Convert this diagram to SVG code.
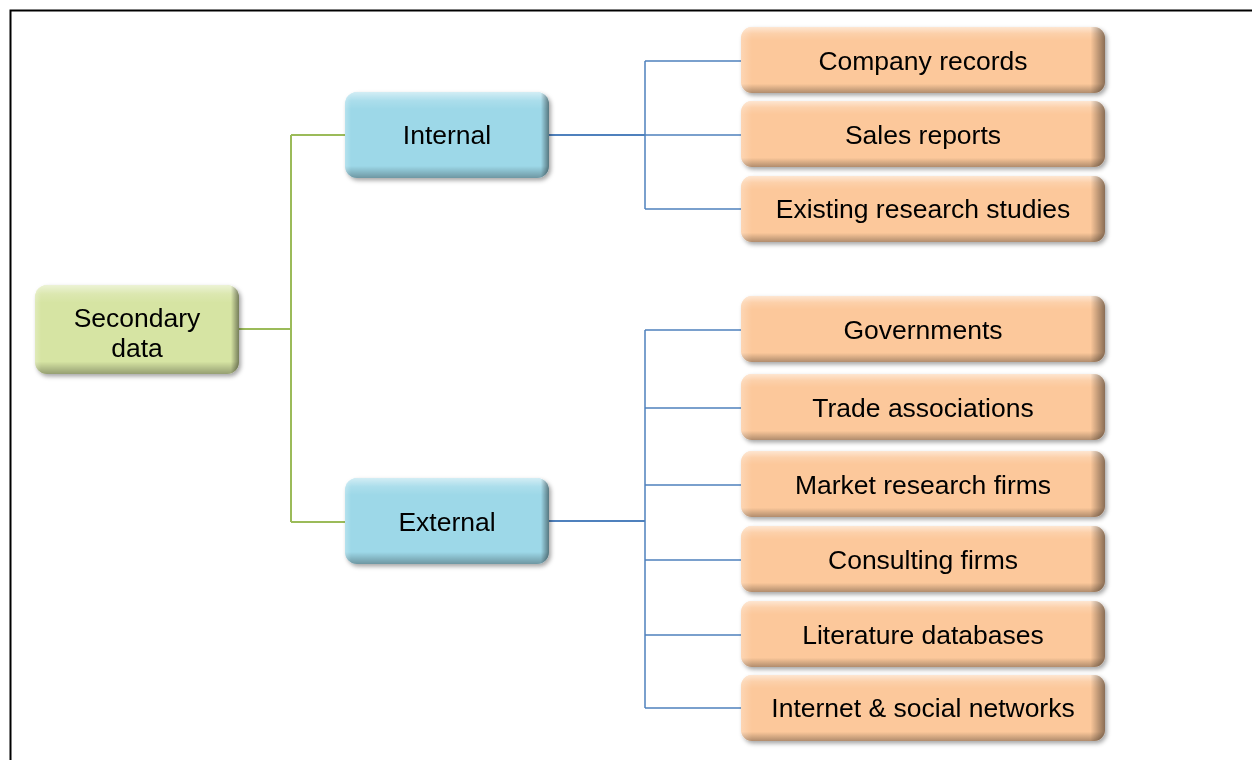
<svg xmlns="http://www.w3.org/2000/svg" width="1252" height="760" viewBox="0 0 1252 760">
  <style>
    .lbl { font-family: "Liberation Sans", Arial, sans-serif; font-size: 26.5px; fill: #000; text-anchor: middle; }
    .green { fill: #d6e4a3; }
    .blue { fill: #9dd8e8; }
    .orange { fill: #fcc89b; }
    .hi { fill: url(#vshade); }
    .side { fill: url(#hshade); }
    .wire-g { stroke: #9bbb59; stroke-width: 2; fill: none; }
    .wire-b { stroke: #4f81bd; stroke-width: 2; fill: none; }
    .wire-b1 { stroke: #4f81bd; stroke-width: 1.5; fill: none; }
  </style>
  <defs>
    <filter id="shadow" x="-10%" y="-15%" width="125%" height="140%">
      <feDropShadow dx="2" dy="2.5" stdDeviation="2" flood-color="#000" flood-opacity="0.35"/>
    </filter>
    <!-- top glint and bottom darkening for the bevel -->
    <linearGradient id="vshade" x1="0" y1="0" x2="0" y2="1">
      <stop offset="0" stop-color="#fff" stop-opacity="0.55"/>
      <stop offset="0.1" stop-color="#fff" stop-opacity="0.15"/>
      <stop offset="0.2" stop-color="#fff" stop-opacity="0"/>
      <stop offset="0.86" stop-color="#000" stop-opacity="0"/>
      <stop offset="1" stop-color="#000" stop-opacity="0.3"/>
    </linearGradient>
    <!-- side edges: light left, dark right -->
    <linearGradient id="hshade" x1="0" y1="0" x2="1" y2="0">
      <stop offset="0" stop-color="#fff" stop-opacity="0.25"/>
      <stop offset="0.03" stop-color="#fff" stop-opacity="0"/>
      <stop offset="0.96" stop-color="#000" stop-opacity="0"/>
      <stop offset="1" stop-color="#000" stop-opacity="0.45"/>
    </linearGradient>
  </defs>

  <rect width="1252" height="760" fill="#fff"/>
  <!-- page frame -->
  <path d="M10.5 762 V10.5 H1254" fill="none" stroke="#000" stroke-width="2"/>

  <g id="connectors">
    <path class="wire-g" d="M239 329 H291 M291 135 V522 M291 135 H345 M291 522 H345"/>
    <path class="wire-b" d="M549 135 H645"/>
    <path class="wire-b1" d="M645 61 V209 M645 61 H741 M645 135 H741 M645 209 H741"/>
    <path class="wire-b" d="M549 521 H645"/>
    <path class="wire-b1" d="M645 330 V708 M645 330 H741 M645 408 H741 M645 485 H741 M645 560 H741 M645 635 H741 M645 708 H741"/>
  </g>

  <g id="secondary-data" filter="url(#shadow)">
    <rect class="green" x="35" y="285" width="204" height="89" rx="12"/>
    <rect class="hi" x="35" y="285" width="204" height="89" rx="12"/>
    <rect class="side" x="35" y="285" width="204" height="89" rx="12"/>
    <text class="lbl" x="137" y="327">Secondary</text>
    <text class="lbl" x="137" y="357">data</text>
  </g>

  <g id="internal" filter="url(#shadow)">
    <rect class="blue" x="345" y="92" width="204" height="86" rx="12"/>
    <rect class="hi" x="345" y="92" width="204" height="86" rx="12"/>
    <rect class="side" x="345" y="92" width="204" height="86" rx="12"/>
    <text class="lbl" x="447" y="144">Internal</text>
  </g>

  <g id="external" filter="url(#shadow)">
    <rect class="blue" x="345" y="478" width="204" height="86" rx="12"/>
    <rect class="hi" x="345" y="478" width="204" height="86" rx="12"/>
    <rect class="side" x="345" y="478" width="204" height="86" rx="12"/>
    <text class="lbl" x="447" y="531">External</text>
  </g>

  <g id="company-records" filter="url(#shadow)">
    <rect class="orange" x="741" y="27" width="364" height="66" rx="11"/>
    <rect class="hi" x="741" y="27" width="364" height="66" rx="11"/>
    <rect class="side" x="741" y="27" width="364" height="66" rx="11"/>
    <text class="lbl" x="923" y="70">Company records</text>
  </g>

  <g id="sales-reports" filter="url(#shadow)">
    <rect class="orange" x="741" y="101" width="364" height="66" rx="11"/>
    <rect class="hi" x="741" y="101" width="364" height="66" rx="11"/>
    <rect class="side" x="741" y="101" width="364" height="66" rx="11"/>
    <text class="lbl" x="923" y="144">Sales reports</text>
  </g>

  <g id="existing-research-studies" filter="url(#shadow)">
    <rect class="orange" x="741" y="176" width="364" height="66" rx="11"/>
    <rect class="hi" x="741" y="176" width="364" height="66" rx="11"/>
    <rect class="side" x="741" y="176" width="364" height="66" rx="11"/>
    <text class="lbl" x="923" y="218">Existing research studies</text>
  </g>

  <g id="governments" filter="url(#shadow)">
    <rect class="orange" x="741" y="296" width="364" height="66" rx="11"/>
    <rect class="hi" x="741" y="296" width="364" height="66" rx="11"/>
    <rect class="side" x="741" y="296" width="364" height="66" rx="11"/>
    <text class="lbl" x="923" y="339">Governments</text>
  </g>

  <g id="trade-associations" filter="url(#shadow)">
    <rect class="orange" x="741" y="374" width="364" height="66" rx="11"/>
    <rect class="hi" x="741" y="374" width="364" height="66" rx="11"/>
    <rect class="side" x="741" y="374" width="364" height="66" rx="11"/>
    <text class="lbl" x="923" y="417">Trade associations</text>
  </g>

  <g id="market-research-firms" filter="url(#shadow)">
    <rect class="orange" x="741" y="451" width="364" height="66" rx="11"/>
    <rect class="hi" x="741" y="451" width="364" height="66" rx="11"/>
    <rect class="side" x="741" y="451" width="364" height="66" rx="11"/>
    <text class="lbl" x="923" y="494">Market research firms</text>
  </g>

  <g id="consulting-firms" filter="url(#shadow)">
    <rect class="orange" x="741" y="526" width="364" height="66" rx="11"/>
    <rect class="hi" x="741" y="526" width="364" height="66" rx="11"/>
    <rect class="side" x="741" y="526" width="364" height="66" rx="11"/>
    <text class="lbl" x="923" y="569">Consulting firms</text>
  </g>

  <g id="literature-databases" filter="url(#shadow)">
    <rect class="orange" x="741" y="601" width="364" height="66" rx="11"/>
    <rect class="hi" x="741" y="601" width="364" height="66" rx="11"/>
    <rect class="side" x="741" y="601" width="364" height="66" rx="11"/>
    <text class="lbl" x="923" y="644">Literature databases</text>
  </g>

  <g id="internet-social-networks" filter="url(#shadow)">
    <rect class="orange" x="741" y="675" width="364" height="66" rx="11"/>
    <rect class="hi" x="741" y="675" width="364" height="66" rx="11"/>
    <rect class="side" x="741" y="675" width="364" height="66" rx="11"/>
    <text class="lbl" x="923" y="717">Internet &amp; social networks</text>
  </g>
</svg>
